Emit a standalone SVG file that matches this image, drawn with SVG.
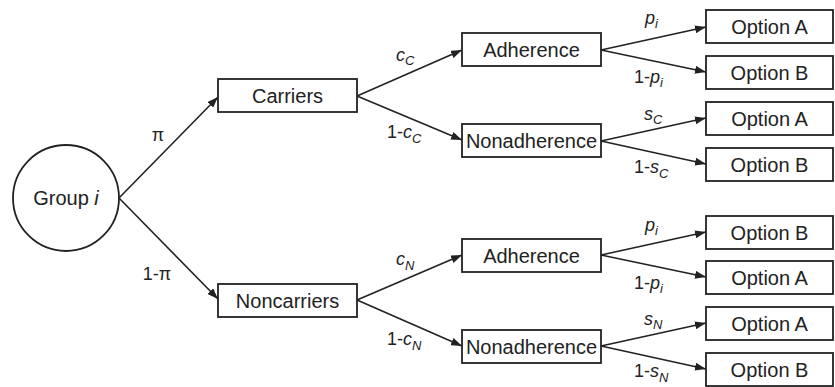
<svg xmlns="http://www.w3.org/2000/svg" width="835" height="387" viewBox="0 0 835 387">
<style>
.box{fill:#fff;stroke:#222;stroke-width:1.8}
.t{font-family:"Liberation Sans",Arial,sans-serif;font-size:20px;fill:#222;text-anchor:middle}
.l{font-family:"Liberation Sans",Arial,sans-serif;font-size:18px;fill:#222}
.sub{font-size:13px;font-style:italic}
.it{font-style:italic}
.e{stroke:#222;stroke-width:1.6;fill:none;marker-end:url(#ah)}
</style>
<defs>
<marker id="ah" markerUnits="userSpaceOnUse" markerWidth="12" markerHeight="8" refX="11" refY="4" orient="auto">
<path d="M0,0 L11,4 L0,8 z" fill="#222"/>
</marker>
</defs>
<g id="connectors">
<line class="e" x1="119" y1="198" x2="218" y2="97"/>
<line class="e" x1="119" y1="198" x2="218" y2="299"/>
<line class="e" x1="357" y1="96" x2="462" y2="50"/>
<line class="e" x1="357" y1="96" x2="462" y2="140"/>
<line class="e" x1="357" y1="300" x2="462" y2="255"/>
<line class="e" x1="357" y1="300" x2="462" y2="346"/>
<line class="e" x1="601" y1="50" x2="706" y2="27"/>
<line class="e" x1="601" y1="50" x2="706" y2="72"/>
<line class="e" x1="601" y1="141" x2="706" y2="118"/>
<line class="e" x1="601" y1="141" x2="706" y2="164"/>
<line class="e" x1="601" y1="255" x2="706" y2="232"/>
<line class="e" x1="601" y1="255" x2="706" y2="277"/>
<line class="e" x1="601" y1="346" x2="706" y2="323"/>
<line class="e" x1="601" y1="346" x2="706" y2="369"/>
</g>
<g id="labels">
<text class="l" x="158" y="141" text-anchor="middle">π</text>
<text class="l" x="157" y="280" text-anchor="middle">1-π</text>
<text class="l" x="396" y="61"><tspan class="it">c</tspan><tspan class="sub" dy="4">C</tspan></text>
<text class="l" x="387" y="138">1-<tspan class="it">c</tspan><tspan class="sub" dy="5">C</tspan></text>
<text class="l" x="396" y="265"><tspan class="it">c</tspan><tspan class="sub" dy="5">N</tspan></text>
<text class="l" x="387" y="345">1-<tspan class="it">c</tspan><tspan class="sub" dy="5">N</tspan></text>
<text class="l" x="645" y="24"><tspan class="it">p</tspan><tspan class="sub" dy="4">i</tspan></text>
<text class="l" x="634" y="83">1-<tspan class="it">p</tspan><tspan class="sub" dy="4">i</tspan></text>
<text class="l" x="644" y="120"><tspan class="it">s</tspan><tspan class="sub" dy="4">C</tspan></text>
<text class="l" x="634" y="173">1-<tspan class="it">s</tspan><tspan class="sub" dy="5">C</tspan></text>
<text class="l" x="645" y="231"><tspan class="it">p</tspan><tspan class="sub" dy="4">i</tspan></text>
<text class="l" x="634" y="289">1-<tspan class="it">p</tspan><tspan class="sub" dy="4">i</tspan></text>
<text class="l" x="644" y="325"><tspan class="it">s</tspan><tspan class="sub" dy="4">N</tspan></text>
<text class="l" x="634" y="377">1-<tspan class="it">s</tspan><tspan class="sub" dy="5">N</tspan></text>
</g>
<g id="group-i"><circle cx="66" cy="198" r="53" class="box"/><text class="t" x="66" y="205">Group <tspan class="it">i</tspan></text></g>
<g id="carriers"><rect class="box" x="218" y="79" width="139" height="33"/><text class="t" x="287.5" y="102.5">Carriers</text></g>
<g id="noncarriers"><rect class="box" x="218" y="284" width="139" height="33"/><text class="t" x="287.5" y="307.5">Noncarriers</text></g>
<g id="adh-c"><rect class="box" x="462" y="33" width="139" height="33"/><text class="t" x="531.5" y="56.5">Adherence</text></g>
<g id="nonadh-c"><rect class="box" x="462" y="124" width="139" height="33"/><text class="t" x="531.5" y="147.5">Nonadherence</text></g>
<g id="adh-n"><rect class="box" x="462" y="239" width="139" height="33"/><text class="t" x="531.5" y="262.5">Adherence</text></g>
<g id="nonadh-n"><rect class="box" x="462" y="330" width="139" height="33"/><text class="t" x="531.5" y="353.5">Nonadherence</text></g>
<g id="opt1"><rect class="box" x="706" y="10" width="127" height="33"/><text class="t" x="769.5" y="33.5">Option A</text></g>
<g id="opt2"><rect class="box" x="706" y="56" width="127" height="33"/><text class="t" x="769.5" y="79.5">Option B</text></g>
<g id="opt3"><rect class="box" x="706" y="102" width="127" height="33"/><text class="t" x="769.5" y="125.5">Option A</text></g>
<g id="opt4"><rect class="box" x="706" y="148" width="127" height="33"/><text class="t" x="769.5" y="171.5">Option B</text></g>
<g id="opt5"><rect class="box" x="706" y="216" width="127" height="33"/><text class="t" x="769.5" y="239.5">Option B</text></g>
<g id="opt6"><rect class="box" x="706" y="261" width="127" height="33"/><text class="t" x="769.5" y="284.5">Option A</text></g>
<g id="opt7"><rect class="box" x="706" y="307" width="127" height="33"/><text class="t" x="769.5" y="330.5">Option A</text></g>
<g id="opt8"><rect class="box" x="706" y="353" width="127" height="33"/><text class="t" x="769.5" y="376.5">Option B</text></g>
</svg>
